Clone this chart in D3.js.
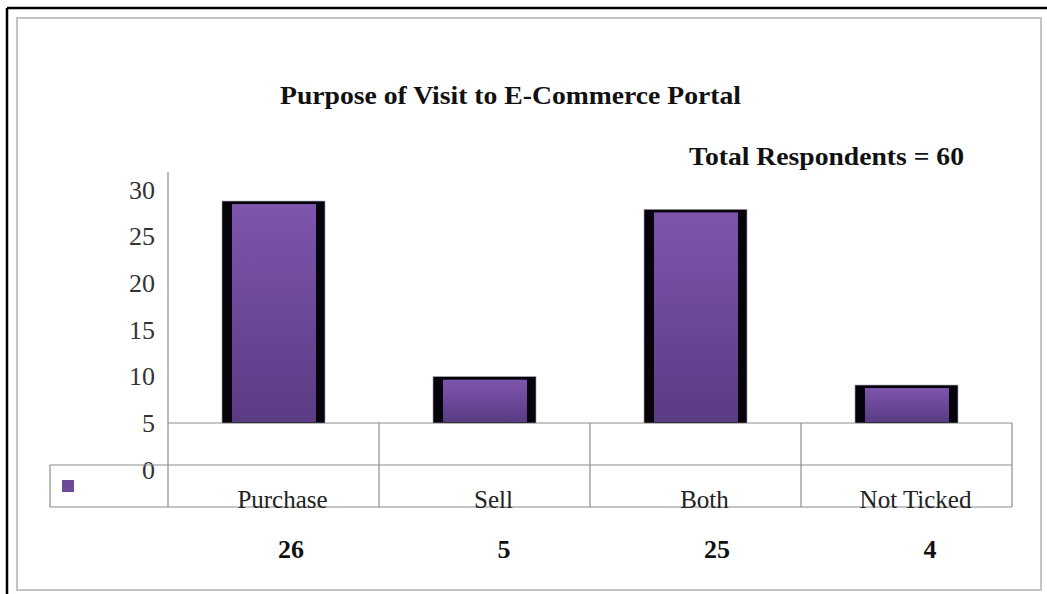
<!DOCTYPE html>
<html>
<head>
<meta charset="utf-8">
<script src="https://cdn.jsdelivr.net/npm/d3@7"></script>
<style>
  html, body { margin: 0; padding: 0; background: #fff; }
  svg { display: block; }
</style>
</head>
<body>
<script>
// Survey data: purpose of visit to an e-commerce portal (60 respondents)
const categories = ["Purchase", "Sell", "Both", "Not Ticked"];
const counts = [26, 5, 25, 4];
const axisTicks = [0, 5, 10, 15, 20, 25, 30];
const titleText = "Purpose of Visit to E-Commerce Portal";
const noteText = "Total Respondents = 60";

const W = 1047, H = 594;
const svg = d3.select("body").append("svg").attr("width", W).attr("height", H);
const serif = "Liberation Serif, Times New Roman, serif";

// frame
const frame = svg.append("g");
frame.append("rect").attr("x", 17).attr("y", 18).attr("width", 1024).attr("height", 572)
  .attr("fill", "none").attr("stroke", "#c4c4c4").attr("stroke-width", 2);
frame.append("line").attr("x1", 7).attr("x2", W).attr("y1", 8).attr("y2", 8)
  .attr("stroke", "#000").attr("stroke-width", 2.5);
frame.append("line").attr("x1", 7).attr("x2", 7).attr("y1", 8).attr("y2", H)
  .attr("stroke", "#000").attr("stroke-width", 2.5);

// plot geometry
const plotLeft = 168, plotRight = 1012;
const floorY = 423;      // floor of the plot (bar base)
const tableTop = 465, tableBottom = 507, tableLeft = 50;

// scales
const x = d3.scaleBand().domain(categories).range([plotLeft, plotRight])
  .paddingInner(0.512).paddingOuter(0.256);
const yAxisScale = d3.scaleLinear().domain([0, 30]).range([470, 190]);
// bars rise from the floor in the 3-D projection
const yBar = d3.scaleLinear().domain([0, 30]).range([418.5, 167.6]);
const valueX = d3.scalePoint().domain(categories).range([291, 930]);

// title and note
svg.append("text").attr("x", 280).attr("y", 104)
  .attr("font-family", serif)
  .attr("font-weight", "bold").attr("font-size", 26)
  .attr("textLength", 461).attr("lengthAdjust", "spacingAndGlyphs")
  .attr("fill", "#111").text(titleText);
svg.append("text").attr("x", 689).attr("y", 165)
  .attr("font-family", serif)
  .attr("font-weight", "bold").attr("font-size", 26)
  .attr("textLength", 275).attr("lengthAdjust", "spacingAndGlyphs")
  .attr("fill", "#111").text(noteText);

// y axis (labels only, no tick marks)
const yAxis = d3.axisLeft(yAxisScale).tickValues(axisTicks).tickSize(0).tickPadding(13);
const gy = svg.append("g").attr("transform", `translate(${plotLeft},0)`).call(yAxis);
gy.select(".domain").remove();
gy.selectAll("text")
  .attr("font-family", serif)
  .attr("font-size", 26).attr("fill", "#333");

// grid / table lines
const lineColor = "#8c8c8c";
const lines = svg.append("g").attr("stroke", lineColor).attr("stroke-width", 1.2);
lines.append("line").attr("x1", plotLeft).attr("x2", plotLeft).attr("y1", 172).attr("y2", tableBottom);
lines.append("line").attr("x1", plotLeft).attr("x2", plotRight).attr("y1", floorY).attr("y2", floorY);
lines.append("line").attr("x1", tableLeft).attr("x2", plotRight).attr("y1", tableTop).attr("y2", tableTop);
lines.append("line").attr("x1", tableLeft).attr("x2", plotRight).attr("y1", tableBottom).attr("y2", tableBottom);
lines.append("line").attr("x1", tableLeft).attr("x2", tableLeft).attr("y1", tableTop).attr("y2", tableBottom);
const step = x.step();
const dividers = categories.map(c => x(c) - step * x.paddingInner() / 2 + step);
lines.selectAll("line.div").data(dividers).join("line").attr("class", "div")
  .attr("x1", d => d).attr("x2", d => d).attr("y1", floorY).attr("y2", tableBottom);

// gradient fill for bars
const defs = svg.append("defs");
const grad = defs.append("linearGradient").attr("id", "barGrad")
  .attr("x1", 0).attr("y1", 0).attr("x2", 0).attr("y2", 1);
grad.append("stop").attr("offset", "0%").attr("stop-color", "#7d55ad");
grad.append("stop").attr("offset", "100%").attr("stop-color", "#5b3b84");

// bars: dark frame with gradient face
const bars = svg.append("g").selectAll("g").data(categories.map((c, i) => ({ c, v: counts[i] })))
  .join("g");
bars.append("rect")
  .attr("x", d => x(d.c)).attr("width", x.bandwidth())
  .attr("y", d => yBar(d.v)).attr("height", d => floorY - yBar(d.v))
  .attr("fill", "#07030d").attr("stroke", "#9a9a9a").attr("stroke-width", 0.6);
bars.append("rect")
  .attr("x", d => x(d.c) + 10).attr("width", x.bandwidth() - 19)
  .attr("y", d => yBar(d.v) + 3).attr("height", d => floorY - yBar(d.v) - 4)
  .attr("fill", "url(#barGrad)");

// legend key in the data table
svg.append("rect").attr("x", 62).attr("y", 480).attr("width", 12).attr("height", 12)
  .attr("fill", "#6b4b98");

// category labels
svg.append("g").selectAll("text").data(categories).join("text")
  .attr("x", d => x(d) + x.bandwidth() / 2 + 9).attr("y", 508)
  .attr("text-anchor", "middle")
  .attr("font-family", serif)
  .attr("font-size", 25).attr("fill", "#222")
  .text(d => d);

// value row
svg.append("g").selectAll("text").data(categories.map((c, i) => ({ c, v: counts[i] }))).join("text")
  .attr("x", d => valueX(d.c)).attr("y", 558)
  .attr("text-anchor", "middle")
  .attr("font-family", serif)
  .attr("font-weight", "bold").attr("font-size", 26).attr("fill", "#111")
  .text(d => d.v);
</script>
</body>
</html>
